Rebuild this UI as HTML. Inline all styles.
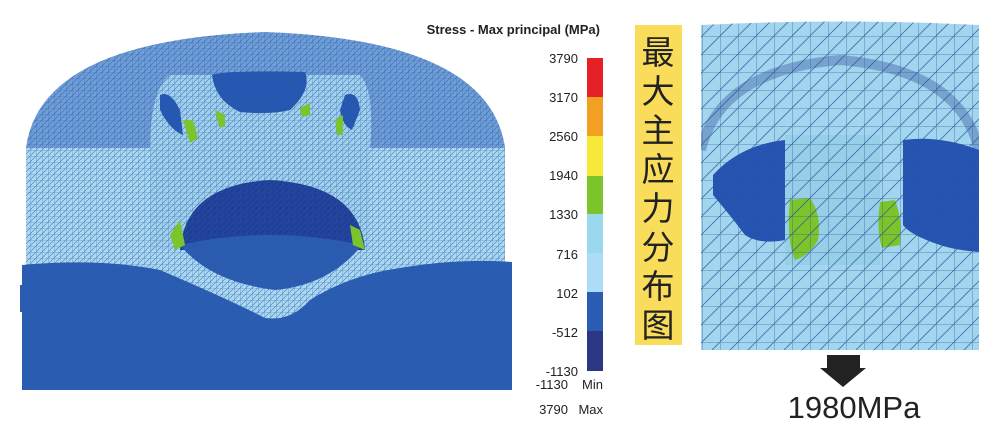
<!DOCTYPE html>
<html><head><meta charset="utf-8"><style>
html,body{margin:0;padding:0;background:#fff;width:987px;height:433px;overflow:hidden}
svg{display:block}
</style></head><body>
<svg width="987" height="433" viewBox="0 0 987 433" xmlns="http://www.w3.org/2000/svg">
<defs>
<pattern id="m" width="6" height="6" patternUnits="userSpaceOnUse">
<path d="M0 0H6M0 0V6M0 6L6 0" stroke="#2f55a0" stroke-width="0.6" fill="none" opacity="0.75"/>
</pattern>
<pattern id="m2" width="18" height="18" patternUnits="userSpaceOnUse">
<path d="M0 0H18M0 0V18M0 18L18 0" stroke="#2d4f98" stroke-width="0.8" fill="none" opacity="0.8"/>
</pattern>
<clipPath id="rc"><path d="M701 25 Q840 18 979 25 V350 H701Z"/></clipPath>
</defs>
<!-- left model -->
<path d="M26 148 Q40 40 265 32 Q490 40 505 148Z" fill="#6f9fd8"/>
<rect x="26" y="148" width="479" height="180" fill="#a9d9f2"/>
<path d="M150 150 Q150 90 170 75 L360 75 Q375 90 370 150 L370 250 H150Z" fill="#9fd2ee"/>
<path d="M212 75 Q225 70 305 72 Q312 90 290 110 Q270 115 240 112 Q215 100 212 75Z" fill="#2458b4"/>
<path d="M160 95 Q170 90 180 110 L183 135 Q170 130 160 110Z" fill="#2458b4"/>
<path d="M345 95 Q358 90 360 110 L352 130 Q342 125 340 110Z" fill="#2458b4"/>
<path d="M180 250 Q185 185 270 180 Q360 185 365 250Z" fill="#1f3f98"/>
<path d="M180 245 Q270 225 362 245 Q330 285 275 290 Q210 282 180 245Z" fill="#2a5cb2"/>
<path d="M26 148 H505 V330 H26Z M26 148 Q40 40 265 32 Q490 40 505 148Z" fill="url(#m)"/>
<path d="M183 120 l10 0 l5 18 l-8 5z M215 110 l10 5 l0 12 l-6 0z M300 108 l10 -5 l0 12 l-8 2z M335 120 l8 -5 l0 20 l-6 0z M170 235 l10 -15 l5 25 l-10 5z M350 225 l10 5 l5 20 l-12 -5z" fill="#7cc42c"/>
<path d="M22 265 Q100 258 160 270 Q230 300 265 318 Q290 322 310 300 Q350 275 400 268 Q460 258 512 262 V390 H22Z" fill="#2a5cb2"/>
<path d="M20 285 H26 V312 H20Z" fill="#2a5cb2"/>
<!-- legend -->
<text x="600" y="34" font-family="Liberation Sans,sans-serif" font-size="13" font-weight="bold" text-anchor="end" fill="#222">Stress - Max principal (MPa)</text>
<rect x="587" y="58" width="16" height="39" fill="#e42127"/>
<rect x="587" y="97" width="16" height="39" fill="#f2a024"/>
<rect x="587" y="136" width="16" height="40" fill="#f8e838"/>
<rect x="587" y="176" width="16" height="38" fill="#7cc42c"/>
<rect x="587" y="214" width="16" height="39" fill="#9ad8ee"/>
<rect x="587" y="253" width="16" height="39" fill="#acdcf6"/>
<rect x="587" y="292" width="16" height="39" fill="#2a5cb2"/>
<rect x="587" y="331" width="16" height="40" fill="#2b3781"/>
<g font-family="Liberation Sans,sans-serif" font-size="13" fill="#222" text-anchor="end">
<text x="578" y="63">3790</text><text x="578" y="102">3170</text><text x="578" y="141">2560</text>
<text x="578" y="180">1940</text><text x="578" y="219">1330</text><text x="578" y="259">716</text>
<text x="578" y="298">102</text><text x="578" y="337">-512</text><text x="578" y="376">-1130</text>
<text x="568" y="389">-1130</text><text x="568" y="414">3790</text>
<text x="603" y="389">Min</text><text x="603" y="414">Max</text>
</g>
<!-- yellow label -->
<rect x="635" y="25" width="47" height="320" fill="#f8dc5a"/>
<g font-family="Liberation Sans,'Noto Sans CJK SC',sans-serif" font-size="33" fill="#222" text-anchor="middle">
<text x="658" y="64">最</text><text x="658" y="103">大</text><text x="658" y="142">主</text>
<text x="658" y="181">应</text><text x="658" y="220">力</text><text x="658" y="259">分</text>
<text x="658" y="298">布</text><text x="658" y="337">图</text>
</g>
<!-- right image -->
<g clip-path="url(#rc)">
<rect x="701" y="18" width="278" height="332" fill="#a2d6ee"/>
<path d="M701 150 Q720 70 840 60 Q960 70 979 150" fill="none" stroke="#4a6fae" stroke-width="10" opacity="0.5"/>
<rect x="785" y="135" width="95" height="130" fill="#98cfe8"/>
<path d="M713 175 Q740 145 785 140 L785 240 Q760 245 745 235 Q730 215 713 195Z" fill="#2654b2"/>
<path d="M903 140 Q940 135 979 150 V252 Q955 250 940 245 Q910 235 903 225Z" fill="#2654b2"/>
<path d="M790 200 L810 198 Q822 215 818 240 Q810 255 795 260 Q786 240 790 200Z" fill="#7cc42c"/>
<path d="M880 202 L895 200 Q903 220 900 245 L882 248 Q876 230 880 202Z" fill="#7cc42c"/>
<rect x="701" y="18" width="278" height="332" fill="url(#m2)"/>
</g>
<path d="M827 355 H860 V368 H866 L843 387 L820 368 H827Z" fill="#222"/>
<text x="854" y="418" font-family="Liberation Sans,sans-serif" font-size="31" fill="#222" text-anchor="middle">1980MPa</text>
</svg>
</body></html>
